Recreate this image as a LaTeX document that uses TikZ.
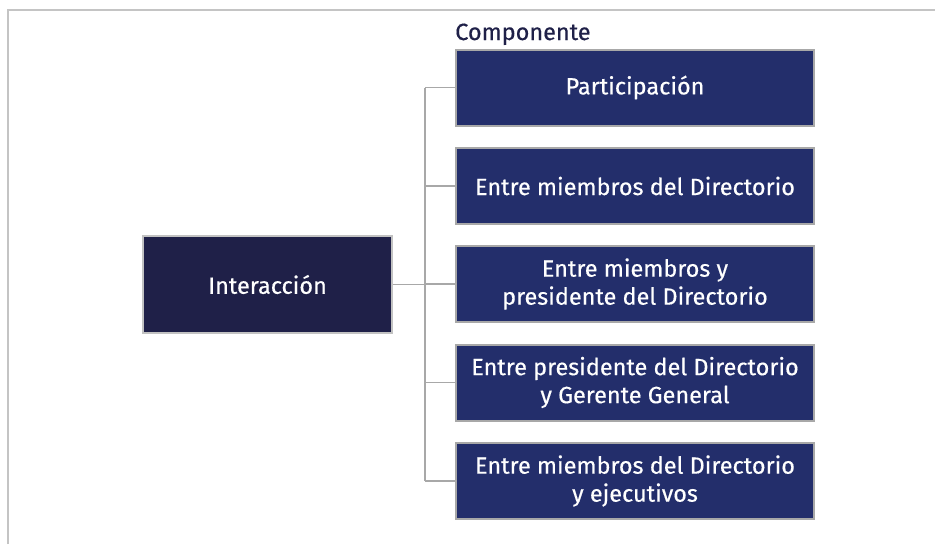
\documentclass[tikz,border=0pt]{standalone}
\usepackage{fontspec}
\setmainfont{Fira Sans}[FakeBold=0.4]
\definecolor{navyA}{HTML}{1F2048}
\definecolor{navyB}{HTML}{232E6B}
\definecolor{frameG}{HTML}{C4C4C4}
\definecolor{lineG}{HTML}{A8A8A8}
\begin{document}
\begin{tikzpicture}[x=0.75pt,y=-0.75pt,
  box/.style={draw=lineG, line width=1.5pt, fill=navyB, text=white, align=center,
    minimum width=358*0.75pt, minimum height=76*0.75pt, inner sep=0pt,
    font=\fontsize{17.6}{21}\selectfont},
  rootbox/.style={box, fill=navyA, draw=lineG!70, line width=0.8pt, minimum width=249*0.75pt, minimum height=97*0.75pt},
  conn/.style={draw=lineG, line width=1.4pt}]
\useasboundingbox (0,0) rectangle (935,544);
\fill[white] (0,0) rectangle (935,544);
\draw[frameG, line width=2pt] (8,544) -- (8,10) -- (935,10);
\node[rootbox] (root) at (267.5,284.5) {Interacción};
\node[box] (b1) at (635,87.5) {Participación};
\node[box] (b2) at (635,186) {Entre miembros del Directorio};
\node[box] (b3) at (635,284) {Entre miembros y\\presidente del Directorio};
\node[box] (b4) at (635,382.5) {Entre presidente del Directorio\\y Gerente General};
\node[box] (b5) at (635,481) {Entre miembros del Directorio\\y ejecutivos};
\node[anchor=base west, inner sep=0pt, text=navyA, font=\fontsize{17.6}{21}\selectfont] (lbl) at (455,40) {Componente};
\coordinate (j) at (425,0);
\draw[conn] (root.east) -- (j |- root.east);
\draw[conn] (j |- b1.west) -- (j |- b5.west);
\foreach \b in {b1,b2,b3,b4,b5} \draw[conn] (j |- \b.west) -- (\b.west);
\end{tikzpicture}
\end{document}
